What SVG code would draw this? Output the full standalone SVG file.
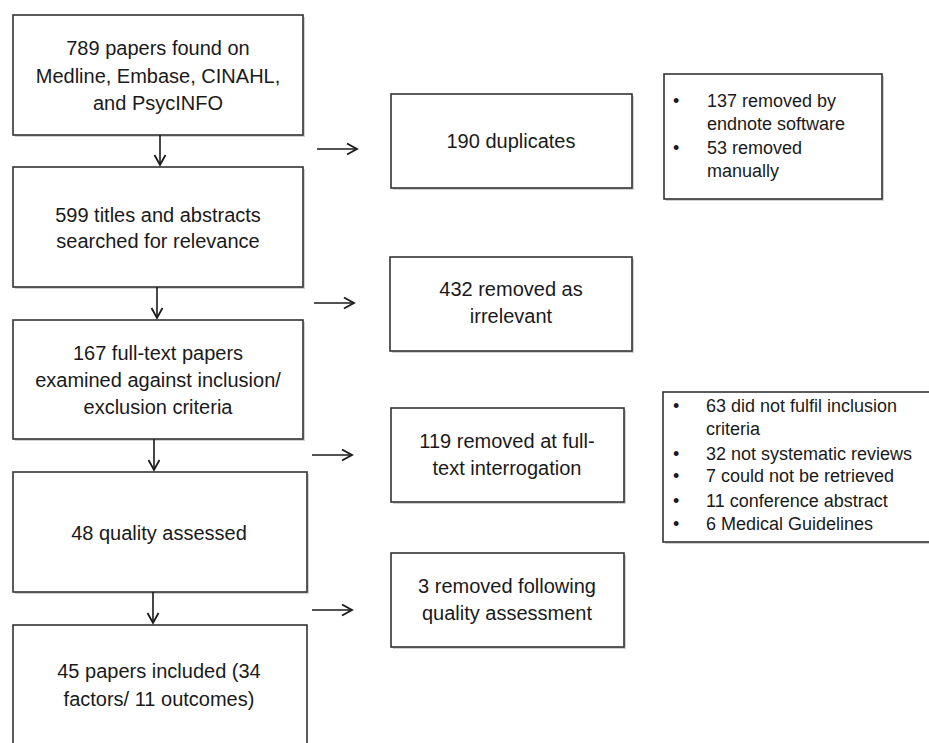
<svg xmlns="http://www.w3.org/2000/svg" width="929" height="743" viewBox="0 0 929 743">
<style>
.box{fill:#fff;stroke:#333;stroke-width:1.6}
.sh{fill:#999;opacity:0.45}
.t{font-family:"Liberation Sans",Arial,sans-serif;font-size:20px;fill:#1a1a1a;text-anchor:middle}
.s{font-family:"Liberation Sans",Arial,sans-serif;font-size:18px;fill:#1a1a1a}
.c{stroke:#1a1a1a;stroke-width:1.6;fill:none;marker-end:url(#ah)}
</style>
<defs>
<marker id="ah" markerUnits="userSpaceOnUse" markerWidth="14" markerHeight="14" refX="11" refY="6" orient="auto">
<path d="M1,0.5 L11,6 L1,11.5" fill="none" stroke="#1a1a1a" stroke-width="1.8"/>
</marker>
</defs>
<rect width="929" height="743" fill="#fff"/>
<g id="n1"><rect class="sh" x="15" y="17" width="290" height="120"/><rect class="box" x="13" y="15" width="290" height="120"/>
<text class="t" x="158" y="55">789 papers found on</text><text class="t" x="158" y="83">Medline, Embase, CINAHL,</text><text class="t" x="158" y="110">and PsycINFO</text></g>
<g id="n2"><rect class="sh" x="15" y="169" width="290" height="120"/><rect class="box" x="13" y="167" width="290" height="120"/>
<text class="t" x="158" y="222">599 titles and abstracts</text><text class="t" x="158" y="248">searched for relevance</text></g>
<g id="n3"><rect class="sh" x="15" y="322" width="290" height="119"/><rect class="box" x="13" y="320" width="290" height="119"/>
<text class="t" x="158" y="360">167 full-text papers</text><text class="t" x="158" y="387">examined against inclusion/</text><text class="t" x="158" y="414">exclusion criteria</text></g>
<g id="n4"><rect class="sh" x="15" y="474" width="294" height="120"/><rect class="box" x="13" y="472" width="294" height="120"/>
<text class="t" x="159" y="540">48 quality assessed</text></g>
<g id="n5"><rect class="box" x="13" y="625" width="294" height="140"/>
<text class="t" x="159" y="678">45 papers included (34</text><text class="t" x="159" y="706">factors/ 11 outcomes)</text></g>
<g id="m1"><rect class="sh" x="393" y="96" width="241" height="94"/><rect class="box" x="391" y="94" width="241" height="94"/>
<text class="t" x="511" y="148">190 duplicates</text></g>
<g id="m2"><rect class="sh" x="392" y="259" width="242" height="94"/><rect class="box" x="390" y="257" width="242" height="94"/>
<text class="t" x="511" y="296">432 removed as</text><text class="t" x="511" y="323">irrelevant</text></g>
<g id="m3"><rect class="sh" x="393" y="410" width="233" height="94"/><rect class="box" x="391" y="408" width="233" height="94"/>
<text class="t" x="507" y="448">119 removed at full-</text><text class="t" x="507" y="475">text interrogation</text></g>
<g id="m4"><rect class="sh" x="393" y="555" width="233" height="94"/><rect class="box" x="391" y="553" width="233" height="94"/>
<text class="t" x="507" y="593">3 removed following</text><text class="t" x="507" y="620">quality assessment</text></g>
<g id="r1"><rect class="sh" x="666" y="76" width="218" height="125"/><rect class="box" x="664" y="74" width="218" height="125"/>
<text class="s" x="673" y="107">•</text><text class="s" x="707" y="107">137 removed by</text>
<text class="s" x="707" y="130">endnote software</text>
<text class="s" x="673" y="154">•</text><text class="s" x="707" y="154">53 removed</text>
<text class="s" x="707" y="177">manually</text></g>
<g id="r2"><rect class="sh" x="665" y="394" width="280" height="150"/><rect class="box" x="663" y="392" width="280" height="150"/>
<text class="s" x="673" y="412">•</text><text class="s" x="706" y="412">63 did not fulfil inclusion</text>
<text class="s" x="706" y="435">criteria</text>
<text class="s" x="673" y="460">•</text><text class="s" x="706" y="460">32 not systematic reviews</text>
<text class="s" x="673" y="482">•</text><text class="s" x="706" y="482">7 could not be retrieved</text>
<text class="s" x="673" y="507">•</text><text class="s" x="706" y="507">11 conference abstract</text>
<text class="s" x="673" y="530">•</text><text class="s" x="706" y="530">6 Medical Guidelines</text></g>
<g id="connectors">
<line class="c" x1="160" y1="135" x2="160" y2="165"/>
<line class="c" x1="157" y1="287" x2="157" y2="318"/>
<line class="c" x1="154" y1="439" x2="154" y2="470"/>
<line class="c" x1="153" y1="592" x2="153" y2="623"/>
<line class="c" x1="317" y1="149" x2="357" y2="149"/>
<line class="c" x1="314" y1="303" x2="354" y2="303"/>
<line class="c" x1="312" y1="455" x2="352" y2="455"/>
<line class="c" x1="312" y1="610" x2="352" y2="610"/>
</g>
</svg>
